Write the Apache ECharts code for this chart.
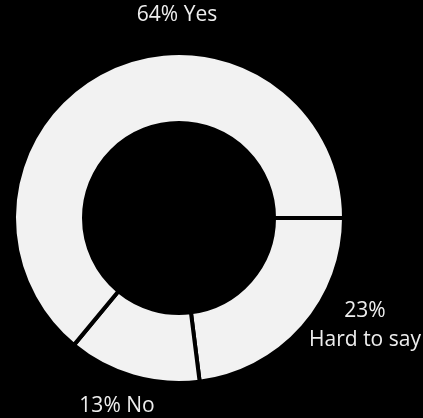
<!DOCTYPE html>
<html>
<head>
<meta charset="utf-8">
<script src="https://cdn.jsdelivr.net/npm/echarts@6/dist/echarts.min.js"></script>
<style>
html,body{margin:0;padding:0;background:#000;}
#chart{width:423px;height:418px;}
</style>
</head>
<body>
<div id="chart"></div>
<script>
var categories = ['Hard to say', 'No', 'Yes'];
var values = [23, 13, 64];
var separators = ['\n', ' ', ' '];
var labelPos = [[365, 326], [117, 406], [177, 15]];

var chart = echarts.init(document.getElementById('chart'), null, {renderer: 'canvas'});
chart.setOption({
  backgroundColor: '#000000',
  animation: false,
  series: [{
    type: 'pie',
    center: [179, 218],
    radius: [95, 165],
    startAngle: 0,
    clockwise: true,
    avoidLabelOverlap: false,
    itemStyle: {color: '#f2f2f2', borderColor: '#000000', borderWidth: 4},
    label: {
      show: true,
      position: 'outside',
      color: '#eeeeee',
      fontFamily: 'Open Sans',
      fontSize: 21,
      lineHeight: 29,
      align: 'center',
      overflow: 'none',
      width: 200,
      formatter: function (p) { return p.value + '%' + separators[p.dataIndex] + p.name; }
    },
    labelLine: {show: false},
    labelLayout: function (p) {
      var pos = labelPos[p.dataIndex];
      return {x: pos[0], y: pos[1], align: 'center', verticalAlign: 'middle', width: 200};
    },
    emphasis: {disabled: true},
    data: categories.map(function (c, i) { return {name: c, value: values[i]}; })
  }]
});
</script>
</body>
</html>
